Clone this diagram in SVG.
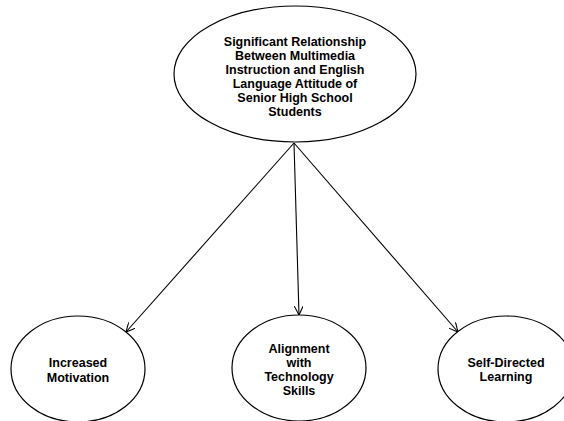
<svg xmlns="http://www.w3.org/2000/svg" width="564" height="421" viewBox="0 0 564 421">
  <defs>
    <style>
      .node { fill: #ffffff; stroke: #000000; stroke-width: 1.2; }
      .lbl { font-family: "Liberation Sans", Arial, sans-serif; font-weight: bold; font-size: 12.5px; fill: #000000; text-anchor: middle; }
      .edge { stroke: #000000; stroke-width: 1.1; fill: none; marker-end: url(#arrow); }
    </style>
    <marker id="arrow" viewBox="0 0 10 10" refX="10" refY="5" markerWidth="9" markerHeight="9" markerUnits="userSpaceOnUse" orient="auto">
      <path d="M0,0 L10,5 L0,10" fill="none" stroke="#000000" stroke-width="1.2"/>
    </marker>
  </defs>
  <rect width="564" height="421" fill="#ffffff"/>
  <g id="connectors">
    <line class="edge" x1="294" y1="143" x2="126" y2="332"/>
    <line class="edge" x1="294" y1="143" x2="299" y2="315"/>
    <line class="edge" x1="294" y1="143" x2="458" y2="332"/>
  </g>
  <g id="node-main">
    <ellipse class="node" cx="295" cy="74" rx="121" ry="68"/>
    <text class="lbl" x="295" y="46">Significant Relationship</text>
    <text class="lbl" x="295" y="60">Between Multimedia</text>
    <text class="lbl" x="295" y="74">Instruction and English</text>
    <text class="lbl" x="295" y="88">Language Attitude of</text>
    <text class="lbl" x="295" y="102">Senior High School</text>
    <text class="lbl" x="295" y="116">Students</text>
  </g>
  <g id="node-motivation">
    <ellipse class="node" cx="78" cy="369" rx="67" ry="53"/>
    <text class="lbl" x="78" y="367">Increased</text>
    <text class="lbl" x="78" y="382">Motivation</text>
  </g>
  <g id="node-alignment">
    <ellipse class="node" cx="299" cy="368" rx="67" ry="53"/>
    <text class="lbl" x="299" y="353">Alignment</text>
    <text class="lbl" x="299" y="367">with</text>
    <text class="lbl" x="299" y="381">Technology</text>
    <text class="lbl" x="299" y="395">Skills</text>
  </g>
  <g id="node-selfdirected">
    <ellipse class="node" cx="506" cy="369" rx="68" ry="53"/>
    <text class="lbl" x="506" y="367">Self-Directed</text>
    <text class="lbl" x="506" y="381">Learning</text>
  </g>
</svg>
